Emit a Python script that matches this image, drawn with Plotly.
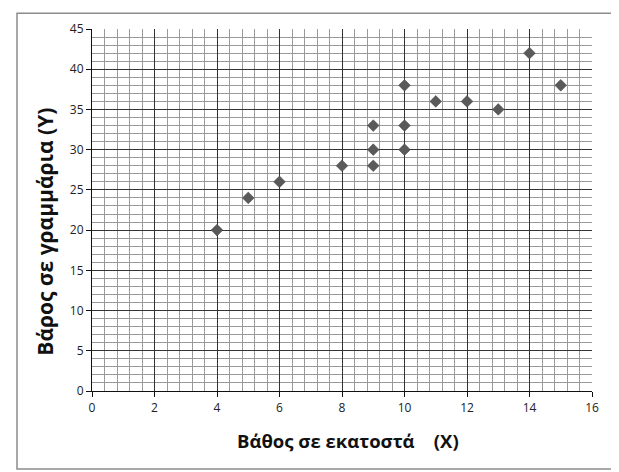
import plotly.graph_objects as go

depth_cm = [4, 5, 6, 8, 9, 9, 9, 10, 10, 10, 11, 12, 13, 14, 15]
weight_g = [20, 24, 26, 28, 28, 30, 33, 30, 33, 38, 36, 36, 35, 42, 38]

x_title = "<b>Βάθος σε εκατοστά    (X)</b>"
y_title = "<b>Βάρος σε γραμμάρια (Y)</b>"

fig = go.Figure()
fig.add_trace(go.Scatter(
    x=depth_cm, y=weight_g, mode="markers",
    marker=dict(symbol="diamond", size=9, color="#5a5a5a",
                line=dict(width=0.5, color="#404040")),
    showlegend=False,
))

font_family = "Open Sans, Liberation Sans, sans-serif"

# the page body has an 8px margin, so the figure is made 8px smaller
fig.update_layout(
    width=611, height=464,
    margin=dict(l=84, r=27, t=17, b=81),
    paper_bgcolor="white", plot_bgcolor="white",
    font=dict(family=font_family, color="#222"),
    xaxis=dict(
        range=[0, 16], dtick=2, tick0=0,
        showgrid=True, gridcolor="#333333", gridwidth=1.2,
        minor=dict(dtick=0.4, tick0=0, showgrid=True, gridcolor="#9a9a9a", gridwidth=1),
        showline=True, linecolor="#111", linewidth=1.2,
        ticks="outside", ticklen=5, tickcolor="#111",
        tickfont=dict(size=12, color="#222"),
        zeroline=False,
    ),
    yaxis=dict(
        range=[0, 45], dtick=5, tick0=0,
        showgrid=True, gridcolor="#333333", gridwidth=1.2,
        minor=dict(dtick=1, tick0=0, showgrid=True, gridcolor="#9a9a9a", gridwidth=1),
        showline=True, linecolor="#111", linewidth=1.2,
        ticks="outside", ticklen=5, tickcolor="#111",
        tickfont=dict(size=12, color="#222"),
        zeroline=False,
    ),
    annotations=[
        dict(text=x_title, xref="paper", yref="paper", x=0.512, y=-0.1366,
             xanchor="center", yanchor="middle", showarrow=False,
             font=dict(size=18.5, color="#111", family=font_family)),
        dict(text=y_title, xref="paper", yref="paper", x=-0.094, y=0.44,
             xanchor="center", yanchor="middle", showarrow=False, textangle=-90,
             font=dict(size=21, color="#111", family=font_family)),
    ],
    shapes=[dict(
        type="rect", xref="paper", yref="paper",
        x0=-0.15, x1=1.042, y0=-0.2158, y1=1.0437,
        line=dict(color="#8c8c8c", width=1.5), layer="below",
    )],
)

fig.write_html("out.html")
